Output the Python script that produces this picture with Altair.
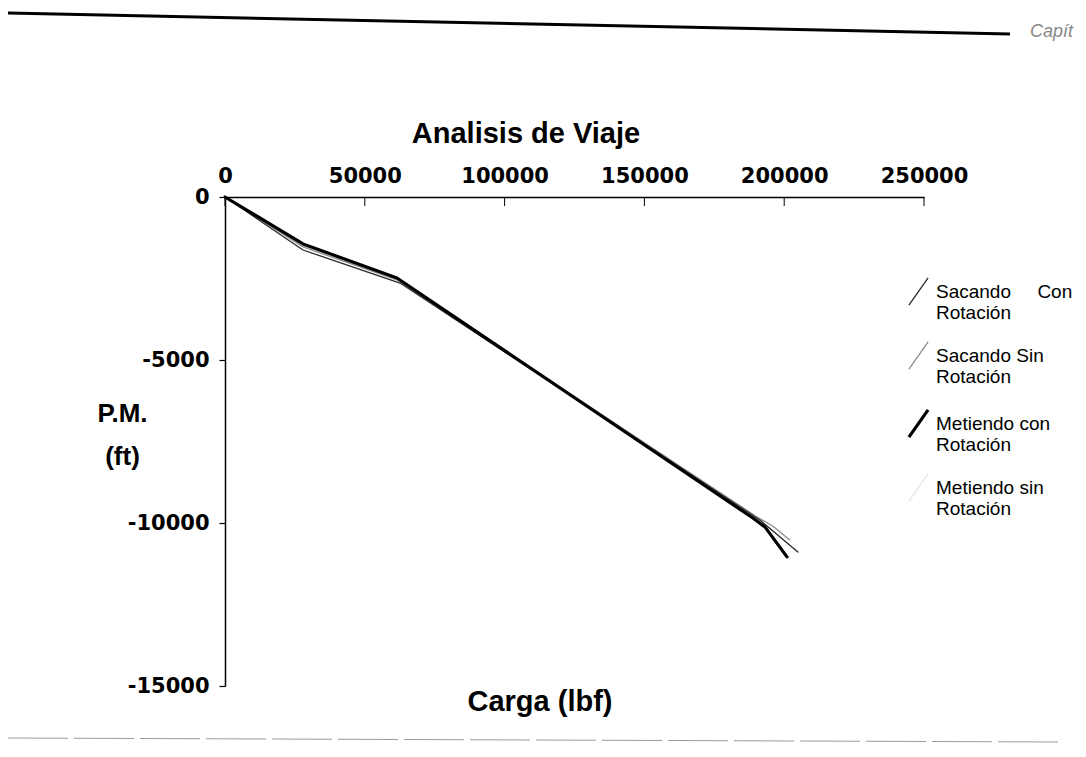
import altair as alt
import pandas as pd

# ---- data ----
series_names = ["Sacando Con Rotación", "Sacando Sin Rotación",
                "Metiendo con Rotación", "Metiendo sin Rotación"]

carga_sacando_con = [0, 27900, 62600, 191300, 204900]
pm_sacando_con = [0, -1626, -2640, -9908, -10890]

carga_sacando_sin = [0, 27900, 62000, 190000, 196000, 202000]
pm_sacando_sin = [0, -1530, -2560, -9800, -10100, -10520]

carga_metiendo_con = [0, 27900, 61500, 188800, 193100, 201000]
pm_metiendo_con = [0, -1440, -2485, -9847, -10120, -11040]

carga_metiendo_sin = [0, 27900, 61600, 189500, 197000]
pm_metiendo_sin = [0, -1460, -2500, -9820, -10300]

x_ticks = [0, 50000, 100000, 150000, 200000, 250000]
y_ticks = [0, -5000, -10000, -15000]

NB = "\u00a0"
legend_lines = {
    "Sacando Con Rotación": ["Sacando" + NB * 5 + "Con", "Rotación"],
    "Sacando Sin Rotación": ["Sacando Sin", "Rotación"],
    "Metiendo con Rotación": ["Metiendo con", "Rotación"],
    "Metiendo sin Rotación": ["Metiendo sin", "Rotación"],
}

# drawing order: light first, black last
rows = []
for name, xs, ys in [
    ("Metiendo sin Rotación", carga_metiendo_sin, pm_metiendo_sin),
    ("Sacando Sin Rotación", carga_sacando_sin, pm_sacando_sin),
    ("Sacando Con Rotación", carga_sacando_con, pm_sacando_con),
    ("Metiendo con Rotación", carga_metiendo_con, pm_metiendo_con),
]:
    for i, (a, b) in enumerate(zip(xs, ys)):
        rows.append({"serie": name, "carga": a, "pm": b, "i": i})
df = pd.DataFrame(rows)

W, H = 699, 489


def lines_expr():
    parts = []
    for k, v in legend_lines.items():
        arr = "[" + ", ".join("'" + s + "'" for s in v) + "]"
        parts.append((k, arr))
    expr = parts[-1][1]
    for k, arr in reversed(parts[:-1]):
        expr = f"datum.label == '{k}' ? {arr} : ({expr})"
    return expr


legend_kw = dict(
    title=None, orient="none", legendX=678, legendY=80,
    symbolType="M-0.7,1L0.7,-1", symbolSize=750,
    labelFont="Liberation Sans", labelFontSize=19, labelColor="black",
    labelExpr=lines_expr(), labelLimit=0, rowPadding=16, labelOffset=2)

x_scale = alt.Scale(domain=[0, 250000], nice=False)
y_scale = alt.Scale(domain=[-15000, 0], nice=False)

lines = alt.Chart(df).mark_line(strokeCap="round", strokeJoin="round").encode(
    x=alt.X("carga:Q", scale=x_scale, axis=alt.Axis(
        orient="top", values=x_ticks, labelExpr="'' + datum.value",
        labelFont="DejaVu Sans", labelFontWeight="bold", labelFontSize=21,
        labelColor="black", tickSize=0, labelPadding=11,
        domainColor="black", domainWidth=1.5, grid=False, title=None,
        labelFlush=False, labelOverlap=False)),
    y=alt.Y("pm:Q", scale=y_scale, axis=alt.Axis(
        values=y_ticks, labelExpr="'' + datum.value",
        labelFont="DejaVu Sans", labelFontWeight="bold", labelFontSize=21,
        labelColor="black", tickSize=6, tickColor="black", tickWidth=1.2,
        labelPadding=10, domainColor="black", domainWidth=1.5, grid=False,
        title=["P.M.", "(ft)"], titleAngle=0, titleX=-103, titleY=216,
        titleAlign="center", titleBaseline="middle", titleFont="Liberation Sans",
        titleFontSize=26, titleFontWeight="bold", titleColor="black",
        titleLineHeight=43, labelFlush=False, labelOverlap=False)),
    color=alt.Color("serie:N", scale=alt.Scale(
        domain=series_names, range=["#2a2a2a", "#8c8c8c", "#000000", "#e4e4e4"]),
        legend=alt.Legend(**legend_kw)),
    strokeWidth=alt.StrokeWidth("serie:N", scale=alt.Scale(
        type="ordinal", domain=series_names, range=[1.3, 1.3, 3.2, 1.2]),
        legend=alt.Legend(**legend_kw)),
    order="i:Q",
)

ticks = alt.Chart(pd.DataFrame({"carga": x_ticks})).mark_rule(
    color="black", strokeWidth=1).encode(
    x=alt.X("carga:Q", scale=x_scale), y=alt.value(0), y2=alt.value(9))

title = alt.Chart(pd.DataFrame({"t": ["Analisis de Viaje"]})).mark_text(
    font="Liberation Sans", fontWeight="bold", fontSize=29, color="black",
    align="center", baseline="alphabetic").encode(
    x=alt.value(301), y=alt.value(-54), text="t:N")

xlabel = alt.Chart(pd.DataFrame({"t": ["Carga (lbf)"]})).mark_text(
    font="Liberation Sans", fontWeight="bold", fontSize=29, color="black",
    align="center", baseline="alphabetic").encode(
    x=alt.value(315), y=alt.value(H + 25), text="t:N")

header = alt.Chart(pd.DataFrame({"k": [1]})).mark_rule(
    color="black", strokeWidth=3).encode(
    x=alt.value(-217), x2=alt.value(785), y=alt.value(-184), y2=alt.value(-163))

capit = alt.Chart(pd.DataFrame({"t": ["Capít"]})).mark_text(
    font="Liberation Sans", fontStyle="italic", fontSize=18, color="#888888",
    align="left", baseline="alphabetic").encode(
    x=alt.value(805), y=alt.value(-160), text="t:N")

bottom = alt.Chart(pd.DataFrame({"k": [1]})).mark_rule(
    color="#9a9a9a", strokeWidth=1, strokeDash=[60, 6]).encode(
    x=alt.value(-217), x2=alt.value(835), y=alt.value(H + 52), y2=alt.value(H + 56))

chart = alt.layer(lines, ticks, title, xlabel, header, capit, bottom).properties(
    width=W, height=H,
    autosize=alt.AutoSizeParams(type="none"),
    padding={"left": 217, "top": 189, "right": 154, "bottom": 60},
    background="white",
).configure_view(stroke=None)

chart.save("out.html", embed_options={"renderer": "svg", "actions": False})
